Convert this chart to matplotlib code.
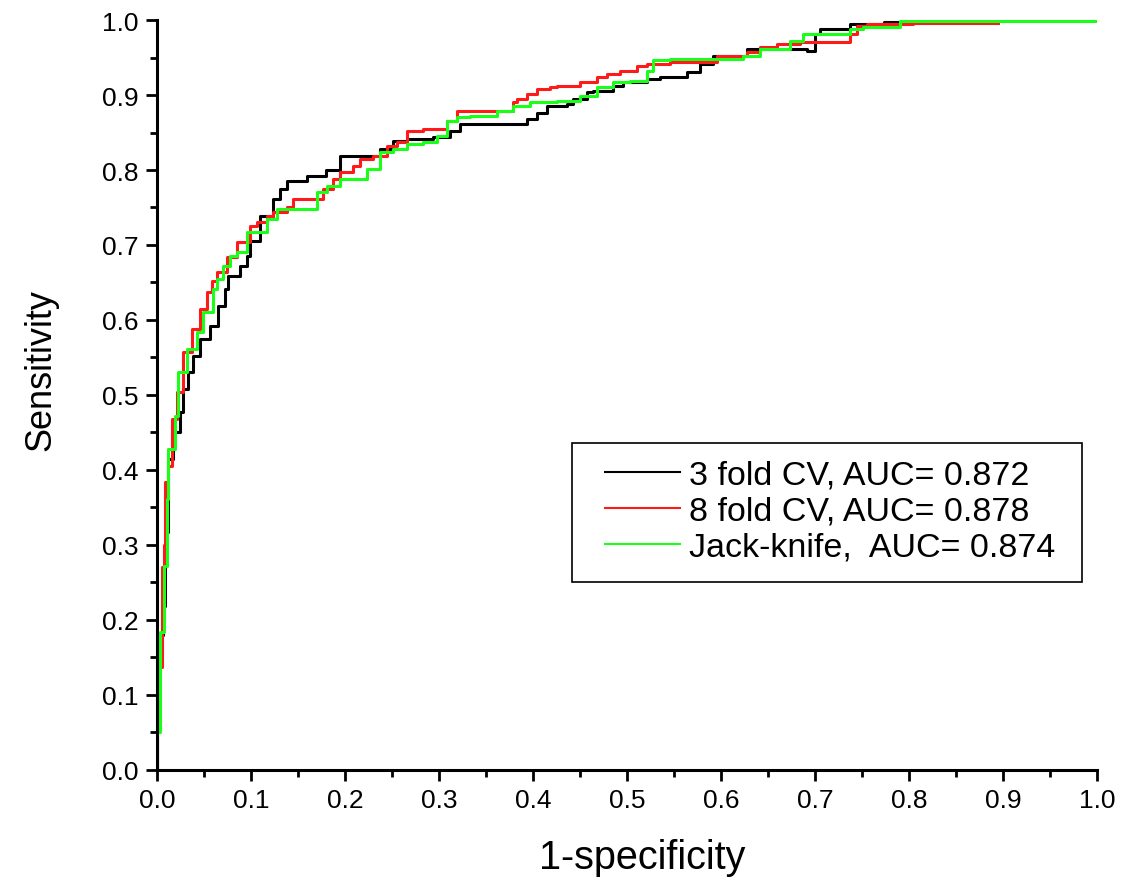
import numpy as np
import matplotlib
matplotlib.use('Agg')
import matplotlib.pyplot as plt
from matplotlib.ticker import MultipleLocator
from matplotlib.patches import Rectangle

plt.rcParams['font.family'] = ['Liberation Sans', 'DejaVu Sans']

# ---- données (1-spécificité, sensibilité) ----

fpr_3fold = [0.0, 0.001, 0.003, 0.006, 0.009, 0.011, 0.012, 0.017, 0.024, 0.028,
             0.033, 0.038, 0.046, 0.056, 0.065, 0.072, 0.076, 0.088, 0.096, 0.099,
             0.110, 0.123, 0.131, 0.138, 0.160, 0.180, 0.195, 0.205, 0.237, 0.251,
             0.266, 0.294, 0.312, 0.322, 0.336, 0.394, 0.404, 0.415, 0.436, 0.443,
             0.457, 0.464, 0.485, 0.496, 0.521, 0.535, 0.564, 0.578, 0.591, 0.628,
             0.670, 0.691, 0.700, 0.705, 0.716, 0.737, 0.773, 0.890]
tpr_3fold = [0.0, 0.06, 0.144, 0.18, 0.219, 0.30, 0.317, 0.415, 0.451, 0.477,
             0.508, 0.531, 0.552, 0.575, 0.592, 0.619, 0.641, 0.659, 0.672, 0.685,
             0.705, 0.739, 0.761, 0.775, 0.785, 0.792, 0.800, 0.819, 0.819, 0.828,
             0.839, 0.841, 0.844, 0.852, 0.861, 0.861, 0.868, 0.876, 0.885, 0.888,
             0.895, 0.904, 0.905, 0.912, 0.917, 0.921, 0.924, 0.931, 0.941, 0.952,
             0.961, 0.961, 0.959, 0.981, 0.988, 0.988, 0.995, 0.998]

fpr_8fold = [0.0, 0.002, 0.005, 0.007, 0.009, 0.012, 0.016, 0.021, 0.028, 0.037,
             0.046, 0.053, 0.059, 0.064, 0.074, 0.085, 0.099, 0.106, 0.117, 0.123,
             0.138, 0.145, 0.160, 0.177, 0.187, 0.195, 0.209, 0.216, 0.230, 0.245,
             0.255, 0.266, 0.283, 0.309, 0.319, 0.330, 0.379, 0.383, 0.394, 0.404,
             0.418, 0.426, 0.450, 0.468, 0.479, 0.493, 0.511, 0.521, 0.546, 0.596,
             0.628, 0.641, 0.660, 0.684, 0.691, 0.737, 0.745, 0.755, 0.804, 0.895]
tpr_8fold = [0.0, 0.07, 0.137, 0.27, 0.30, 0.384, 0.405, 0.468, 0.504, 0.557,
             0.588, 0.615, 0.637, 0.652, 0.664, 0.684, 0.704, 0.725, 0.730, 0.739,
             0.744, 0.750, 0.761, 0.761, 0.775, 0.788, 0.797, 0.805, 0.815, 0.819,
             0.832, 0.837, 0.852, 0.855, 0.865, 0.879, 0.879, 0.891, 0.895, 0.901,
             0.908, 0.911, 0.912, 0.917, 0.924, 0.928, 0.932, 0.939, 0.941, 0.944,
             0.952, 0.957, 0.964, 0.968, 0.971, 0.971, 0.981, 0.992, 0.995, 0.996]

fpr_jack = [0.0, 0.003, 0.007, 0.011, 0.012, 0.019, 0.022, 0.032, 0.043, 0.049,
            0.060, 0.064, 0.070, 0.078, 0.085, 0.096, 0.117, 0.128, 0.145, 0.170,
            0.181, 0.195, 0.223, 0.237, 0.251, 0.266, 0.283, 0.298, 0.309, 0.319,
            0.333, 0.362, 0.379, 0.397, 0.426, 0.450, 0.468, 0.485, 0.503, 0.521,
            0.528, 0.546, 0.623, 0.641, 0.673, 0.687, 0.737, 0.751, 0.790, 0.809,
            1.0]
tpr_jack = [0.0, 0.05, 0.184, 0.272, 0.361, 0.428, 0.472, 0.531, 0.561, 0.584,
            0.611, 0.641, 0.655, 0.672, 0.685, 0.691, 0.717, 0.735, 0.748, 0.748,
            0.771, 0.779, 0.788, 0.801, 0.824, 0.828, 0.835, 0.837, 0.845, 0.865,
            0.871, 0.872, 0.879, 0.885, 0.891, 0.892, 0.899, 0.911, 0.917, 0.919,
            0.932, 0.947, 0.948, 0.952, 0.961, 0.972, 0.981, 0.988, 0.991, 0.999,
            0.999]

labels = ['3 fold CV, AUC= 0.872', '8 fold CV, AUC= 0.878', 'Jack-knife,  AUC= 0.874']

# ---- plot ----

fig = plt.figure(figsize=(11.33, 8.79), dpi=100)
ax = fig.add_axes([0.1386, 0.1229, 0.8296, 0.8532])

ax.plot(fpr_3fold, tpr_3fold, color='black', lw=2.2, drawstyle='steps-pre', label=labels[0])
ax.plot(fpr_8fold, tpr_8fold, color='#ff1a1a', lw=2.2, drawstyle='steps-pre', label=labels[1])
ax.plot(fpr_jack, tpr_jack, color='#1aff1a', lw=2.2, drawstyle='steps-pre', label=labels[2])

ax.set_xlim(0, 1.0)
ax.set_ylim(0, 1.0)
ax.xaxis.set_major_locator(MultipleLocator(0.1))
ax.xaxis.set_minor_locator(MultipleLocator(0.05))
ax.yaxis.set_major_locator(MultipleLocator(0.1))
ax.yaxis.set_minor_locator(MultipleLocator(0.05))
ax.xaxis.set_major_formatter(plt.FormatStrFormatter('%.1f'))
ax.yaxis.set_major_formatter(plt.FormatStrFormatter('%.1f'))

for s in ['top', 'right']:
    ax.spines[s].set_visible(False)
for s in ['left', 'bottom']:
    ax.spines[s].set_linewidth(2.2)

ax.tick_params(which='major', direction='out', length=8, width=2, labelsize=19, pad=5)
ax.tick_params(which='minor', direction='out', length=5, width=2)

ax.set_xlabel('1-specificity', fontsize=28.5, va='center')
ax.set_ylabel('Sensitivity', fontsize=26, va='center')
ax.xaxis.set_label_coords(0.516, -0.116)
ax.yaxis.set_label_coords(-0.124, 0.535)

# cadre de la légende dessiné à part (marges gauche/droite inégales)
ax.add_patch(Rectangle((0.441, 0.2507), 0.543, 0.1853, transform=ax.transAxes,
                       facecolor='white', edgecolor='black', lw=1.2, zorder=4))
leg = ax.legend(loc='center left', bbox_to_anchor=(0.4766, 0.345), borderaxespad=0,
                borderpad=0, fontsize=24.5, frameon=False, handlelength=2.2,
                handletextpad=0.28, labelspacing=0.15)
leg.set_zorder(5)
for h in leg.get_lines():
    h.set_linewidth(1.5)

plt.savefig('out.png', dpi=100)
